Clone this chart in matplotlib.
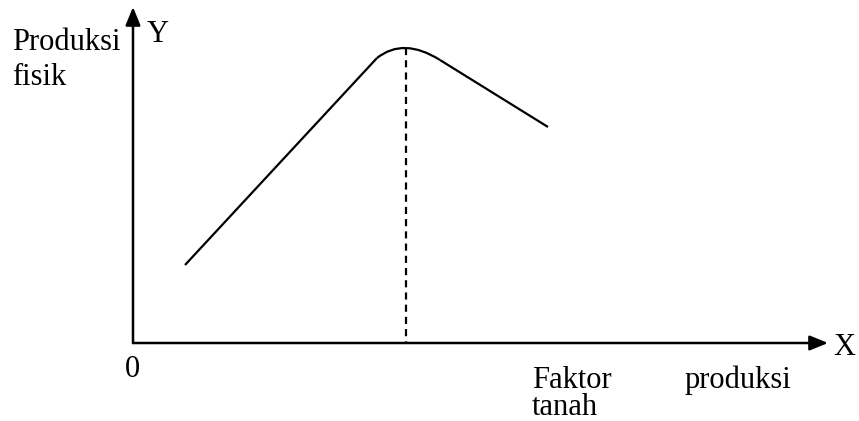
import matplotlib
matplotlib.use('Agg')
import matplotlib.pyplot as plt
from matplotlib.path import Path
from matplotlib.patches import PathPatch

plt.rcParams['font.family'] = ['Liberation Serif', 'DejaVu Serif']

# curve key points (origin of the axes at 0,0)
rise_x = [52, 244]
rise_y = [78, 285]
cap_x = [244, 270.5, 307]   # start, control, end of the rounded top
cap_y = [285, 306, 283]
fall_x = [307, 415]
fall_y = [283, 216]
peak_x = 273
peak_y = 295

x_axis_end = 695
y_axis_end = 336

fig = plt.figure(figsize=(8.59, 4.21), dpi=100)
ax = fig.add_axes([0, 0, 1, 1])
ax.set_xlim(-133, 726)
ax.set_ylim(-78, 343)
ax.axis('off')

# axes with arrows
ax.annotate('', xy=(x_axis_end, 0), xytext=(0, 0),
            arrowprops=dict(arrowstyle='-|>,head_length=1.1,head_width=0.45',
                            color='black', lw=1.8, shrinkA=0, shrinkB=0))
ax.annotate('', xy=(0, y_axis_end), xytext=(0, 0),
            arrowprops=dict(arrowstyle='-|>,head_length=1.1,head_width=0.45',
                            color='black', lw=1.8, shrinkA=0, shrinkB=0))

# curve
ax.plot(rise_x, rise_y, color='black', lw=1.6, solid_capstyle='butt')
ax.add_patch(PathPatch(Path(list(zip(cap_x, cap_y)),
                            [Path.MOVETO, Path.CURVE3, Path.CURVE3]),
                       facecolor='none', edgecolor='black', lw=1.6))
ax.plot(fall_x, fall_y, color='black', lw=1.6, solid_capstyle='butt')

# dashed line from peak
ax.plot([peak_x, peak_x], [peak_y, 0], color='black', lw=1.6,
        linestyle=(0, (3.2, 2.3)))

fs = 22
ax.text(-121, 293, 'Produksi', fontsize=fs, va='baseline', ha='left')
ax.text(-121, 258, 'fisik', fontsize=fs, va='baseline', ha='left')
ax.text(14, 301, 'Y', fontsize=fs, va='baseline', ha='left')
ax.text(-1, -34, '0', fontsize=fs, va='baseline', ha='center')
ax.text(700, -12, 'X', fontsize=fs, va='baseline', ha='left')
ax.text(399, -45, 'Faktor', fontsize=fs, va='baseline', ha='left')
ax.text(552, -45, 'produksi', fontsize=fs, va='baseline', ha='left')
ax.text(399, -72, 'tanah', fontsize=fs, va='baseline', ha='left')

fig.savefig('out.png', dpi=100)
